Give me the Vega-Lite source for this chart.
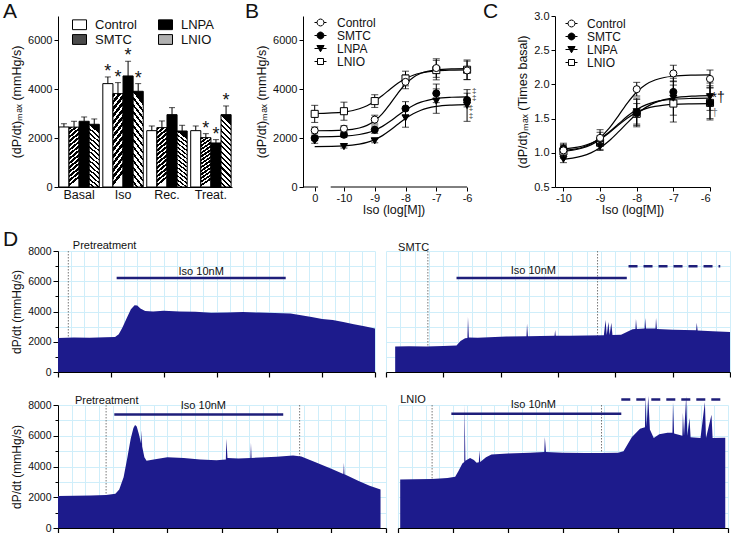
{
"$schema":"https://vega.github.io/schema/vega-lite/v6.json",
"padding":{"left":3,"top":0,"right":0,"bottom":0},
"config":{"font":"Liberation Sans","view":{"stroke":null},
 "axis":{"labelFont":"Liberation Sans","titleFont":"Liberation Sans","labelColor":"#111","titleColor":"#111","titleFontWeight":"normal","domainColor":"#000","tickColor":"#000","labelFontSize":11,"titleFontSize":12.5,"grid":false,"labelOverlap":false},
 "legend":{"labelFont":"Liberation Sans","labelColor":"#111"},
 "title":{"font":"Liberation Sans","fontWeight":"normal","color":"#111"},
 "text":{"font":"Liberation Sans"}},
"spacing":12,
"vconcat":[
{"hconcat":[
 {"width":174,"height":171,
  "title":{"text":"A","anchor":"start","frame":"group","dx":-55,"dy":5.5,"offset":0,"baseline":"top","fontSize":21},
  "data":{"values":[
   {"phase":"Basal","group":"Control","mean":2457,"err":2594,"sig":false},
   {"phase":"Basal","group":"SMTC","mean":2450,"err":2690,"sig":false},
   {"phase":"Basal","group":"LNPA","mean":2690,"err":2867,"sig":false},
   {"phase":"Basal","group":"LNIO","mean":2567,"err":2785,"sig":false},
   {"phase":"Iso","group":"Control","mean":4232,"err":4505,"sig":true},
   {"phase":"Iso","group":"SMTC","mean":3823,"err":4273,"sig":true},
   {"phase":"Iso","group":"LNPA","mean":4546,"err":5147,"sig":true},
   {"phase":"Iso","group":"LNIO","mean":3918,"err":4232,"sig":true},
   {"phase":"Rec.","group":"Control","mean":2307,"err":2498,"sig":false},
   {"phase":"Rec.","group":"SMTC","mean":2430,"err":2703,"sig":false},
   {"phase":"Rec.","group":"LNPA","mean":2962,"err":3249,"sig":false},
   {"phase":"Rec.","group":"LNIO","mean":2293,"err":2526,"sig":false},
   {"phase":"Treat.","group":"Control","mean":2307,"err":2498,"sig":false},
   {"phase":"Treat.","group":"SMTC","mean":2020,"err":2184,"sig":true},
   {"phase":"Treat.","group":"LNPA","mean":1802,"err":1939,"sig":true},
   {"phase":"Treat.","group":"LNIO","mean":2962,"err":3317,"sig":true}]},
  "layer":[
   {"mark":{"type":"bar","stroke":"#000","strokeWidth":1},
    "encoding":{
     "x":{"field":"phase","type":"nominal","sort":["Basal","Iso","Rec.","Treat."],"scale":{"paddingInner":0.08,"paddingOuter":0.02},"axis":{"title":null,"labelAngle":0,"ticks":false,"labelPadding":1,"labelFontSize":12.5,"labelOverlap":false}},
     "xOffset":{"field":"group","type":"nominal","sort":["Control","SMTC","LNPA","LNIO"]},
     "y":{"field":"mean","type":"quantitative","scale":{"domain":[0,7000],"nice":false},"axis":{"values":[0,2000,4000,6000],"tickCount":100,"format":"d","tickSize":4,"labelPadding":2,"title":"(dP/dt)ₘₐₓ (mmHg/s)","titlePadding":4,"labelOverlap":false}},
     "fill":{"condition":[
      {"test":"datum.group === 'SMTC'","value":{"gradient":"linear","x1":0,"y1":0,"x2":0.14,"y2":1,"stops":[
{"offset":0,"color":"#000"},{"offset":0.043,"color":"#000"},{"offset":0.043,"color":"#fff"},{"offset":0.071,"color":"#fff"},
{"offset":0.071,"color":"#000"},{"offset":0.114,"color":"#000"},{"offset":0.114,"color":"#fff"},{"offset":0.143,"color":"#fff"},
{"offset":0.143,"color":"#000"},{"offset":0.186,"color":"#000"},{"offset":0.186,"color":"#fff"},{"offset":0.214,"color":"#fff"},
{"offset":0.214,"color":"#000"},{"offset":0.257,"color":"#000"},{"offset":0.257,"color":"#fff"},{"offset":0.286,"color":"#fff"},
{"offset":0.286,"color":"#000"},{"offset":0.329,"color":"#000"},{"offset":0.329,"color":"#fff"},{"offset":0.357,"color":"#fff"},
{"offset":0.357,"color":"#000"},{"offset":0.4,"color":"#000"},{"offset":0.4,"color":"#fff"},{"offset":0.429,"color":"#fff"},
{"offset":0.429,"color":"#000"},{"offset":0.471,"color":"#000"},{"offset":0.471,"color":"#fff"},{"offset":0.5,"color":"#fff"},
{"offset":0.5,"color":"#000"},{"offset":0.543,"color":"#000"},{"offset":0.543,"color":"#fff"},{"offset":0.571,"color":"#fff"},
{"offset":0.571,"color":"#000"},{"offset":0.614,"color":"#000"},{"offset":0.614,"color":"#fff"},{"offset":0.643,"color":"#fff"},
{"offset":0.643,"color":"#000"},{"offset":0.686,"color":"#000"},{"offset":0.686,"color":"#fff"},{"offset":0.714,"color":"#fff"},
{"offset":0.714,"color":"#000"},{"offset":0.757,"color":"#000"},{"offset":0.757,"color":"#fff"},{"offset":0.786,"color":"#fff"},
{"offset":0.786,"color":"#000"},{"offset":0.829,"color":"#000"},{"offset":0.829,"color":"#fff"},{"offset":0.857,"color":"#fff"},
{"offset":0.857,"color":"#000"},{"offset":0.9,"color":"#000"},{"offset":0.9,"color":"#fff"},{"offset":0.929,"color":"#fff"},
{"offset":0.929,"color":"#000"},{"offset":0.971,"color":"#000"},{"offset":0.971,"color":"#fff"},{"offset":1,"color":"#fff"}]}},
      {"test":"datum.group === 'LNIO'","value":{"gradient":"linear","x1":0,"y1":1,"x2":0.14,"y2":0,"stops":[
{"offset":0,"color":"#fff"},{"offset":0.043,"color":"#fff"},{"offset":0.043,"color":"#000"},{"offset":0.071,"color":"#000"},
{"offset":0.071,"color":"#fff"},{"offset":0.114,"color":"#fff"},{"offset":0.114,"color":"#000"},{"offset":0.143,"color":"#000"},
{"offset":0.143,"color":"#fff"},{"offset":0.186,"color":"#fff"},{"offset":0.186,"color":"#000"},{"offset":0.214,"color":"#000"},
{"offset":0.214,"color":"#fff"},{"offset":0.257,"color":"#fff"},{"offset":0.257,"color":"#000"},{"offset":0.286,"color":"#000"},
{"offset":0.286,"color":"#fff"},{"offset":0.329,"color":"#fff"},{"offset":0.329,"color":"#000"},{"offset":0.357,"color":"#000"},
{"offset":0.357,"color":"#fff"},{"offset":0.4,"color":"#fff"},{"offset":0.4,"color":"#000"},{"offset":0.429,"color":"#000"},
{"offset":0.429,"color":"#fff"},{"offset":0.471,"color":"#fff"},{"offset":0.471,"color":"#000"},{"offset":0.5,"color":"#000"},
{"offset":0.5,"color":"#fff"},{"offset":0.543,"color":"#fff"},{"offset":0.543,"color":"#000"},{"offset":0.571,"color":"#000"},
{"offset":0.571,"color":"#fff"},{"offset":0.614,"color":"#fff"},{"offset":0.614,"color":"#000"},{"offset":0.643,"color":"#000"},
{"offset":0.643,"color":"#fff"},{"offset":0.686,"color":"#fff"},{"offset":0.686,"color":"#000"},{"offset":0.714,"color":"#000"},
{"offset":0.714,"color":"#fff"},{"offset":0.757,"color":"#fff"},{"offset":0.757,"color":"#000"},{"offset":0.786,"color":"#000"},
{"offset":0.786,"color":"#fff"},{"offset":0.829,"color":"#fff"},{"offset":0.829,"color":"#000"},{"offset":0.857,"color":"#000"},
{"offset":0.857,"color":"#fff"},{"offset":0.9,"color":"#fff"},{"offset":0.9,"color":"#000"},{"offset":0.929,"color":"#000"},
{"offset":0.929,"color":"#fff"},{"offset":0.971,"color":"#fff"},{"offset":0.971,"color":"#000"},{"offset":1,"color":"#000"}]}},
      {"test":"datum.group === 'LNPA'","value":"#000"}],"value":"#fff"}}},
   {"mark":{"type":"rule","color":"#000","strokeWidth":1},
    "encoding":{"x":{"field":"phase","type":"nominal","sort":["Basal","Iso","Rec.","Treat."]},"xOffset":{"field":"group","type":"nominal","sort":["Control","SMTC","LNPA","LNIO"]},"y":{"field":"mean","type":"quantitative"},"y2":{"field":"err"}}},
   {"mark":{"type":"tick","orient":"horizontal","size":6,"thickness":1,"color":"#000"},
    "encoding":{"x":{"field":"phase","type":"nominal","sort":["Basal","Iso","Rec.","Treat."]},"xOffset":{"field":"group","type":"nominal","sort":["Control","SMTC","LNPA","LNIO"]},"y":{"field":"err","type":"quantitative"}}},
   {"transform":[{"filter":"datum.sig"}],"mark":{"type":"text","text":"*","fontSize":18,"baseline":"alphabetic","color":"#111"},
    "encoding":{"x":{"field":"phase","type":"nominal","sort":["Basal","Iso","Rec.","Treat."]},"xOffset":{"field":"group","type":"nominal","sort":["Control","SMTC","LNPA","LNIO"]},"y":{"field":"err","type":"quantitative"}}},
   {"data":{"values":[{"group":"Control"},{"group":"SMTC"},{"group":"LNPA"},{"group":"LNIO"}]},
    "mark":{"type":"point","filled":true,"opacity":0,"stroke":"#000","strokeWidth":1},
    "encoding":{"fill":{"field":"group","type":"nominal","scale":{"domain":["Control","SMTC","LNPA","LNIO"],"range":["#fff","#4a4a4a","#000","#b0b0b0"]},
      "legend":{"orient":"none","legendX":14,"legendY":1,"title":null,"columns":2,"columnPadding":19,"rowPadding":0,"padding":0,"symbolType":"M-1,-0.7H1V0.7H-1Z","symbolSize":196,"symbolStrokeColor":"#000","symbolStrokeWidth":1,"symbolOpacity":1,"labelFontSize":13,"labelOffset":8}}}}
  ]},
 {"width":181,"height":171,
  "title":{"text":"B","anchor":"start","frame":"group","dx":-58,"dy":5.5,"offset":0,"baseline":"top","fontSize":21},
  "resolve":{"scale":{"shape":"independent","fill":"independent"}},
  "layer":[
   {"data":{"values":[
     {"group":"Control","x":-10.95,"y":2302},{"group":"Control","x":-10,"y":2330},{"group":"Control","x":-9.5,"y":2417},{"group":"Control","x":-9.25,"y":2522},{"group":"Control","x":-9,"y":2708},{"group":"Control","x":-8.75,"y":3002},{"group":"Control","x":-8.5,"y":3400},{"group":"Control","x":-8.25,"y":3835},{"group":"Control","x":-8,"y":4216},{"group":"Control","x":-7.75,"y":4487},{"group":"Control","x":-7.5,"y":4654},{"group":"Control","x":-7,"y":4798},{"group":"Control","x":-6.5,"y":4837},{"group":"Control","x":-6,"y":4847},
     {"group":"SMTC","x":-10.95,"y":2054},{"group":"SMTC","x":-10,"y":2082},{"group":"SMTC","x":-9.5,"y":2148},{"group":"SMTC","x":-9.25,"y":2216},{"group":"SMTC","x":-9,"y":2325},{"group":"SMTC","x":-8.75,"y":2482},{"group":"SMTC","x":-8.5,"y":2688},{"group":"SMTC","x":-8.25,"y":2923},{"group":"SMTC","x":-8,"y":3149},{"group":"SMTC","x":-7.75,"y":3337},{"group":"SMTC","x":-7.5,"y":3474},{"group":"SMTC","x":-7,"y":3621},{"group":"SMTC","x":-6.5,"y":3674},{"group":"SMTC","x":-6,"y":3692},
     {"group":"LNPA","x":-10.95,"y":1654},{"group":"LNPA","x":-10,"y":1684},{"group":"LNPA","x":-9.5,"y":1753},{"group":"LNPA","x":-9.25,"y":1825},{"group":"LNPA","x":-9,"y":1938},{"group":"LNPA","x":-8.75,"y":2103},{"group":"LNPA","x":-8.5,"y":2319},{"group":"LNPA","x":-8.25,"y":2565},{"group":"LNPA","x":-8,"y":2803},{"group":"LNPA","x":-7.75,"y":3000},{"group":"LNPA","x":-7.5,"y":3143},{"group":"LNPA","x":-7,"y":3297},{"group":"LNPA","x":-6.5,"y":3353},{"group":"LNPA","x":-6,"y":3371},
     {"group":"LNIO","x":-10.95,"y":3008},{"group":"LNIO","x":-10,"y":3069},{"group":"LNIO","x":-9.5,"y":3201},{"group":"LNIO","x":-9.25,"y":3329},{"group":"LNIO","x":-9,"y":3512},{"group":"LNIO","x":-8.75,"y":3746},{"group":"LNIO","x":-8.5,"y":4003},{"group":"LNIO","x":-8.25,"y":4244},{"group":"LNIO","x":-8,"y":4439},{"group":"LNIO","x":-7.75,"y":4577},{"group":"LNIO","x":-7.5,"y":4668},{"group":"LNIO","x":-7,"y":4756},{"group":"LNIO","x":-6.5,"y":4786},{"group":"LNIO","x":-6,"y":4796}]},
    "mark":{"type":"line","color":"#000","strokeWidth":1.2,"interpolate":"monotone"},
    "encoding":{
     "x":{"field":"x","type":"quantitative","scale":{"domain":[-11.33,-5.45],"nice":false,"zero":false},"axis":{"values":[-10.95,-10,-9,-8,-7,-6],"tickCount":100,"labelExpr":"datum.value < -10.5 ? '0' : '' + datum.value","domain":false,"tickSize":4,"labelPadding":1,"title":"Iso (log[M])","titlePadding":0,"labelOverlap":false}},
     "y":{"field":"y","type":"quantitative","scale":{"domain":[0,7000],"nice":false},"axis":{"values":[0,2000,4000,6000],"tickCount":100,"format":"d","tickSize":4,"labelPadding":2,"title":"(dP/dt)ₘₐₓ (mmHg/s)","titlePadding":4,"labelOverlap":false}},
     "detail":{"field":"group"}}},
   {"data":{"values":[{"a":-11.33,"b":-10.84},{"a":-10.43,"b":-6}]},
    "mark":{"type":"rule","color":"#000","strokeWidth":1},
    "encoding":{"x":{"field":"a","type":"quantitative"},"x2":{"field":"b"},"y":{"datum":0,"type":"quantitative"}}},
   {"data":{"name":"ptsB","values":[
     {"group":"LNIO","x":-10.95,"y":2993,"lo":2643,"hi":3343},{"group":"LNIO","x":-10,"y":3103,"lo":2733,"hi":3473},{"group":"LNIO","x":-9,"y":3517,"lo":3257,"hi":3777},{"group":"LNIO","x":-8,"y":4441,"lo":4141,"hi":4741},{"group":"LNIO","x":-7,"y":4786,"lo":4386,"hi":5186},{"group":"LNIO","x":-6,"y":4800,"lo":4400,"hi":5200},
     {"group":"LNPA","x":-10.95,"y":1890,"lo":1790,"hi":1990},{"group":"LNPA","x":-10,"y":1655,"lo":1595,"hi":1715},{"group":"LNPA","x":-9,"y":1890,"lo":1810,"hi":1970},{"group":"LNPA","x":-8,"y":2828,"lo":2448,"hi":3208},{"group":"LNPA","x":-7,"y":3517,"lo":3017,"hi":4017},{"group":"LNPA","x":-6,"y":3338,"lo":2688,"hi":3988},
     {"group":"SMTC","x":-10.95,"y":2000,"lo":1900,"hi":2100},{"group":"SMTC","x":-10,"y":2138,"lo":2038,"hi":2238},{"group":"SMTC","x":-9,"y":2345,"lo":2195,"hi":2495},{"group":"SMTC","x":-8,"y":3214,"lo":2934,"hi":3494},{"group":"SMTC","x":-7,"y":3834,"lo":3454,"hi":4214},{"group":"SMTC","x":-6,"y":3559,"lo":3279,"hi":3839},
     {"group":"Control","x":-10.95,"y":2317,"lo":2177,"hi":2457},{"group":"Control","x":-10,"y":2386,"lo":2266,"hi":2506},{"group":"Control","x":-9,"y":2759,"lo":2579,"hi":2939},{"group":"Control","x":-8,"y":4303,"lo":4023,"hi":4583},{"group":"Control","x":-7,"y":4869,"lo":4489,"hi":5249},{"group":"Control","x":-6,"y":4772,"lo":4392,"hi":5152}]},
    "mark":{"type":"rule","color":"#000","strokeWidth":1},
    "encoding":{"x":{"field":"x","type":"quantitative"},"y":{"field":"lo","type":"quantitative"},"y2":{"field":"hi"}}},
   {"data":{"name":"ptsB"},"mark":{"type":"tick","orient":"horizontal","size":7,"thickness":1,"color":"#000"},
    "encoding":{"x":{"field":"x","type":"quantitative"},"y":{"field":"lo","type":"quantitative"}}},
   {"data":{"name":"ptsB"},"mark":{"type":"tick","orient":"horizontal","size":7,"thickness":1,"color":"#000"},
    "encoding":{"x":{"field":"x","type":"quantitative"},"y":{"field":"hi","type":"quantitative"}}},
   {"data":{"name":"ptsB"},"mark":{"type":"point","filled":true,"stroke":"#000","strokeWidth":1,"opacity":1,"size":50},
    "encoding":{"x":{"field":"x","type":"quantitative"},"y":{"field":"y","type":"quantitative"},
     "shape":{"field":"group","type":"nominal","scale":{"domain":["Control","SMTC","LNPA","LNIO"],"range":["circle","circle","triangle-down","square"]},"legend":null},
     "fill":{"field":"group","type":"nominal","scale":{"domain":["Control","SMTC","LNPA","LNIO"],"range":["#fff","#000","#000","#fff"]},"legend":null}}},
   {"data":{"values":[{"group":"Control"},{"group":"SMTC"},{"group":"LNPA"},{"group":"LNIO"}]},
    "mark":{"type":"point","filled":true,"opacity":0,"stroke":"#000","strokeWidth":1},
    "encoding":{
     "shape":{"field":"group","type":"nominal","scale":{"domain":["Control","SMTC","LNPA","LNIO"],"range":["M-1,0H-0.58M0.58,0H1M0.58,0L0.502,0.29L0.29,0.502L0,0.58L-0.29,0.502L-0.502,0.29L-0.58,0L-0.502,-0.29L-0.29,-0.502L0,-0.58L0.29,-0.502L0.502,-0.29Z","M-1,0H-0.58M0.58,0H1M0.58,0L0.502,0.29L0.29,0.502L0,0.58L-0.29,0.502L-0.502,0.29L-0.58,0L-0.502,-0.29L-0.29,-0.502L0,-0.58L0.29,-0.502L0.502,-0.29Z","M-1,0H-0.3M0.3,0H1M-0.6,-0.5L0.6,-0.5L0,0.55Z","M-1,0H-0.5M0.5,0H1M-0.5,-0.5H0.5V0.5H-0.5Z"]},
      "legend":{"orient":"none","legendX":11,"legendY":0,"title":null,"padding":0,"rowPadding":0,"symbolSize":144,"symbolStrokeColor":"#000","symbolStrokeWidth":1,"symbolOpacity":1,"labelFontSize":12,"labelOffset":10,"encode":{"symbols":{"update":{"stroke":{"value":"#000"},"strokeWidth":{"value":1},"opacity":{"value":1}}}}}},
     "fill":{"field":"group","type":"nominal","scale":{"domain":["Control","SMTC","LNPA","LNIO"],"range":["#fff","#000","#000","#fff"]},
      "legend":{"orient":"none","legendX":11,"legendY":0,"title":null,"padding":0,"rowPadding":0,"symbolSize":144,"symbolStrokeColor":"#000","symbolStrokeWidth":1,"symbolOpacity":1,"labelFontSize":12,"labelOffset":10,"encode":{"symbols":{"update":{"stroke":{"value":"#000"},"strokeWidth":{"value":1},"opacity":{"value":1}}}}}}}},
   {"data":{"values":[{"x":-5.77,"y":3930,"s":["‡","‡"]},{"x":-5.87,"y":3214,"s":["‡","‡"]}]},
    "mark":{"type":"text","fontSize":8,"baseline":"middle","lineHeight":7.5,"color":"#333"},
    "encoding":{"x":{"field":"x","type":"quantitative"},"y":{"field":"y","type":"quantitative"},"text":{"field":"s"}}}
  ]},
 {"width":155,"height":171,
  "title":{"text":"C","anchor":"start","frame":"group","dx":-72,"dy":12,"offset":0,"baseline":"top","fontSize":21},
  "resolve":{"scale":{"shape":"independent","fill":"independent"}},
  "layer":[
   {"data":{"values":[
     {"group":"Control","x":-10,"y":1.035},{"group":"Control","x":-9.75,"y":1.05},{"group":"Control","x":-9.5,"y":1.078},{"group":"Control","x":-9.25,"y":1.131},{"group":"Control","x":-9,"y":1.221},{"group":"Control","x":-8.75,"y":1.36},{"group":"Control","x":-8.5,"y":1.541},{"group":"Control","x":-8.25,"y":1.731},{"group":"Control","x":-8,"y":1.889},{"group":"Control","x":-7.75,"y":1.999},{"group":"Control","x":-7.5,"y":2.064},{"group":"Control","x":-7.25,"y":2.101},{"group":"Control","x":-7,"y":2.12},{"group":"Control","x":-6.5,"y":2.135},{"group":"Control","x":-6,"y":2.139},
     {"group":"SMTC","x":-10,"y":1.057},{"group":"SMTC","x":-9.75,"y":1.071},{"group":"SMTC","x":-9.5,"y":1.096},{"group":"SMTC","x":-9.25,"y":1.139},{"group":"SMTC","x":-9,"y":1.207},{"group":"SMTC","x":-8.75,"y":1.303},{"group":"SMTC","x":-8.5,"y":1.42},{"group":"SMTC","x":-8.25,"y":1.537},{"group":"SMTC","x":-8,"y":1.633},{"group":"SMTC","x":-7.75,"y":1.701},{"group":"SMTC","x":-7.5,"y":1.744},{"group":"SMTC","x":-7.25,"y":1.769},{"group":"SMTC","x":-7,"y":1.783},{"group":"SMTC","x":-6.5,"y":1.795},{"group":"SMTC","x":-6,"y":1.799},
     {"group":"LNPA","x":-10,"y":0.904},{"group":"LNPA","x":-9.75,"y":0.921},{"group":"LNPA","x":-9.5,"y":0.951},{"group":"LNPA","x":-9.25,"y":0.999},{"group":"LNPA","x":-9,"y":1.073},{"group":"LNPA","x":-8.75,"y":1.176},{"group":"LNPA","x":-8.5,"y":1.305},{"group":"LNPA","x":-8.25,"y":1.442},{"group":"LNPA","x":-8,"y":1.567},{"group":"LNPA","x":-7.75,"y":1.664},{"group":"LNPA","x":-7.5,"y":1.733},{"group":"LNPA","x":-7.25,"y":1.777},{"group":"LNPA","x":-7,"y":1.803},{"group":"LNPA","x":-6.5,"y":1.828},{"group":"LNPA","x":-6,"y":1.836},
     {"group":"LNIO","x":-10,"y":1.02},{"group":"LNIO","x":-9.75,"y":1.037},{"group":"LNIO","x":-9.5,"y":1.067},{"group":"LNIO","x":-9.25,"y":1.116},{"group":"LNIO","x":-9,"y":1.192},{"group":"LNIO","x":-8.75,"y":1.292},{"group":"LNIO","x":-8.5,"y":1.405},{"group":"LNIO","x":-8.25,"y":1.51},{"group":"LNIO","x":-8,"y":1.591},{"group":"LNIO","x":-7.75,"y":1.645},{"group":"LNIO","x":-7.5,"y":1.678},{"group":"LNIO","x":-7.25,"y":1.697},{"group":"LNIO","x":-7,"y":1.708},{"group":"LNIO","x":-6.5,"y":1.716},{"group":"LNIO","x":-6,"y":1.719}]},
    "mark":{"type":"line","color":"#000","strokeWidth":1.2,"interpolate":"monotone"},
    "encoding":{
     "x":{"field":"x","type":"quantitative","scale":{"domain":[-10.23,-6],"nice":false,"zero":false},"axis":{"values":[-10,-9,-8,-7,-6],"tickCount":100,"labelExpr":"'' + datum.value","tickSize":4,"labelPadding":1,"title":"Iso (log[M])","titlePadding":0,"labelOverlap":false}},
     "y":{"field":"y","type":"quantitative","scale":{"domain":[0.5,3],"nice":false,"zero":false},"axis":{"values":[0.5,1,1.5,2,2.5,3],"tickCount":100,"format":".1f","tickSize":4,"labelPadding":2,"title":"(dP/dt)ₘₐₓ (Times basal)","titlePadding":4,"labelOverlap":false}},
     "detail":{"field":"group"}}},
   {"data":{"name":"ptsC","values":[
     {"group":"LNIO","x":-10,"y":1.02,"lo":0.92,"hi":1.12},{"group":"LNIO","x":-9,"y":1.15,"lo":1.05,"hi":1.25},{"group":"LNIO","x":-8,"y":1.57,"lo":1.42,"hi":1.72},{"group":"LNIO","x":-7,"y":1.72,"lo":1.45,"hi":1.99},{"group":"LNIO","x":-6,"y":1.73,"lo":1.48,"hi":1.98},
     {"group":"LNPA","x":-10,"y":0.906,"lo":0.856,"hi":0.956},{"group":"LNPA","x":-9,"y":1.094,"lo":1.034,"hi":1.154},{"group":"LNPA","x":-8,"y":1.6,"lo":1.4,"hi":1.8},{"group":"LNPA","x":-7,"y":1.8,"lo":1.55,"hi":2.05},{"group":"LNPA","x":-6,"y":1.82,"lo":1.62,"hi":2.02},
     {"group":"SMTC","x":-10,"y":1.06,"lo":0.98,"hi":1.14},{"group":"SMTC","x":-9,"y":1.2,"lo":1.1,"hi":1.3},{"group":"SMTC","x":-8,"y":1.58,"lo":1.38,"hi":1.78},{"group":"SMTC","x":-7,"y":1.89,"lo":1.69,"hi":2.09},{"group":"SMTC","x":-6,"y":1.73,"lo":1.5,"hi":1.95},
     {"group":"Control","x":-10,"y":1.035,"lo":0.965,"hi":1.105},{"group":"Control","x":-9,"y":1.218,"lo":1.098,"hi":1.338},{"group":"Control","x":-8,"y":1.93,"lo":1.83,"hi":2.03},{"group":"Control","x":-7,"y":2.16,"lo":2.04,"hi":2.28},{"group":"Control","x":-6,"y":2.08,"lo":1.95,"hi":2.21}]},
    "mark":{"type":"rule","color":"#000","strokeWidth":1},
    "encoding":{"x":{"field":"x","type":"quantitative"},"y":{"field":"lo","type":"quantitative"},"y2":{"field":"hi"}}},
   {"data":{"name":"ptsC"},"mark":{"type":"tick","orient":"horizontal","size":7,"thickness":1,"color":"#000"},
    "encoding":{"x":{"field":"x","type":"quantitative"},"y":{"field":"lo","type":"quantitative"}}},
   {"data":{"name":"ptsC"},"mark":{"type":"tick","orient":"horizontal","size":7,"thickness":1,"color":"#000"},
    "encoding":{"x":{"field":"x","type":"quantitative"},"y":{"field":"hi","type":"quantitative"}}},
   {"data":{"name":"ptsC"},"mark":{"type":"point","filled":true,"stroke":"#000","strokeWidth":1,"opacity":1,"size":50},
    "encoding":{"x":{"field":"x","type":"quantitative"},"y":{"field":"y","type":"quantitative"},
     "shape":{"field":"group","type":"nominal","scale":{"domain":["Control","SMTC","LNPA","LNIO"],"range":["circle","circle","triangle-down","square"]},"legend":null},
     "fill":{"field":"group","type":"nominal","scale":{"domain":["Control","SMTC","LNPA","LNIO"],"range":["#fff","#000","#000","#fff"]},"legend":null}}},
   {"data":{"values":[{"group":"Control"},{"group":"SMTC"},{"group":"LNPA"},{"group":"LNIO"}]},
    "mark":{"type":"point","filled":true,"opacity":0,"stroke":"#000","strokeWidth":1},
    "encoding":{
     "shape":{"field":"group","type":"nominal","scale":{"domain":["Control","SMTC","LNPA","LNIO"],"range":["M-1,0H-0.58M0.58,0H1M0.58,0L0.502,0.29L0.29,0.502L0,0.58L-0.29,0.502L-0.502,0.29L-0.58,0L-0.502,-0.29L-0.29,-0.502L0,-0.58L0.29,-0.502L0.502,-0.29Z","M-1,0H-0.58M0.58,0H1M0.58,0L0.502,0.29L0.29,0.502L0,0.58L-0.29,0.502L-0.502,0.29L-0.58,0L-0.502,-0.29L-0.29,-0.502L0,-0.58L0.29,-0.502L0.502,-0.29Z","M-1,0H-0.3M0.3,0H1M-0.6,-0.5L0.6,-0.5L0,0.55Z","M-1,0H-0.5M0.5,0H1M-0.5,-0.5H0.5V0.5H-0.5Z"]},
      "legend":{"orient":"none","legendX":10,"legendY":1,"title":null,"padding":0,"rowPadding":0,"symbolSize":144,"symbolStrokeColor":"#000","symbolStrokeWidth":1,"symbolOpacity":1,"labelFontSize":12,"labelOffset":9,"encode":{"symbols":{"update":{"stroke":{"value":"#000"},"strokeWidth":{"value":1},"opacity":{"value":1}}}}}},
     "fill":{"field":"group","type":"nominal","scale":{"domain":["Control","SMTC","LNPA","LNIO"],"range":["#fff","#000","#000","#fff"]},
      "legend":{"orient":"none","legendX":10,"legendY":1,"title":null,"padding":0,"rowPadding":0,"symbolSize":144,"symbolStrokeColor":"#000","symbolStrokeWidth":1,"symbolOpacity":1,"labelFontSize":12,"labelOffset":9,"encode":{"symbols":{"update":{"stroke":{"value":"#000"},"strokeWidth":{"value":1},"opacity":{"value":1}}}}}}}},
   {"data":{"values":[{"x":-5.78,"y":1.75,"s":"*†"}]},
    "mark":{"type":"text","fontSize":14,"baseline":"alphabetic","color":"#111"},
    "encoding":{"x":{"field":"x","type":"quantitative"},"y":{"field":"y","type":"quantitative"},"text":{"field":"s"}}},
   {"data":{"values":[{"x":-5.87,"y":1.54,"s":"†"}]},
    "mark":{"type":"text","fontSize":11,"baseline":"alphabetic","color":"#777"},
    "encoding":{"x":{"field":"x","type":"quantitative"},"y":{"field":"y","type":"quantitative"},"text":{"field":"s"}}}
  ]}
 ],"spacing":71,"bounds":"flush"},
{"hconcat":[
 {"width":317,"height":121,
  "title":{"text":"D","anchor":"start","frame":"group","dx":-55,"dy":9.5,"offset":0,"baseline":"top","fontSize":21},
  "layer":[
   {"data":{"values":[{"t":0.195}]},"mark":{"type":"rule","color":"#777","strokeDash":[1.5,1.5],"strokeWidth":1},
    "encoding":{"x":{"field":"t","type":"quantitative","scale":{"domain":[0,6],"nice":false},"axis":{"values":[0,0.25,0.5,0.75,1,1.25,1.5,1.75,2,2.25,2.5,2.75,3,3.25,3.5,3.75,4,4.25,4.5,4.75,5,5.25,5.5,5.75,6],"tickCount":100,"labels":false,"title":null,"grid":true,"gridColor":"#cfeefa","tickSize":{"condition":{"test":"datum.value % 1 === 0","value":5},"value":0},"tickWidth":1.2}}}},
   {"data":{"values":[{"t":0,"v":2250},{"t":0.3,"v":2280},{"t":0.6,"v":2260},{"t":0.9,"v":2300},{"t":1.08,"v":2320},{"t":1.15,"v":2500},{"t":1.22,"v":2950},{"t":1.3,"v":3550},{"t":1.38,"v":4150},{"t":1.45,"v":4420},{"t":1.5,"v":4400},{"t":1.56,"v":4200},{"t":1.65,"v":4030},{"t":1.8,"v":4000},{"t":2,"v":4050},{"t":2.3,"v":4000},{"t":2.6,"v":3980},{"t":2.9,"v":3920},{"t":3.2,"v":3930},{"t":3.5,"v":3970},{"t":3.8,"v":3930},{"t":4.1,"v":3900},{"t":4.4,"v":3870},{"t":4.6,"v":3760},{"t":4.8,"v":3640},{"t":5,"v":3500},{"t":5.2,"v":3440},{"t":5.4,"v":3300},{"t":5.6,"v":3160},{"t":5.8,"v":3020},{"t":6,"v":2880}]},
    "mark":{"type":"area","color":"#1d1b8c"},
    "encoding":{"x":{"field":"t","type":"quantitative"},"y":{"field":"v","type":"quantitative","scale":{"domain":[0,8000],"nice":false},"axis":{"values":[0,1000,2000,3000,4000,5000,6000,7000,8000],"tickCount":100,"format":"d","labelExpr":"datum.value % 2000 === 0 ? datum.label : ''","tickSize":{"condition":{"test":"datum.value % 2000 === 0","value":5},"value":3},"grid":true,"gridColor":"#cfeefa","title":"dP/dt (mmHg/s)","titleFontSize":12,"labelFontSize":10.5,"labelPadding":2,"titlePadding":4,"labelOverlap":false}}}},
   {"data":{"values":[{"t1":1.11,"t2":4.31,"v":6210,"kind":"Iso"}]},"mark":{"type":"rule","strokeWidth":2.5,"color":"#1e1e7a"},
    "encoding":{"x":{"field":"t1","type":"quantitative"},"x2":{"field":"t2"},"y":{"field":"v","type":"quantitative"},"strokeDash":{"field":"kind","type":"nominal","scale":{"domain":["Iso","post"],"range":[[1,0],[9,6]]},"legend":null}}},
   {"data":{"values":[{"t":0.28,"v":8130,"s":"Pretreatment"}]},"mark":{"type":"text","align":"left","baseline":"alphabetic","fontSize":11,"color":"#111"},
    "encoding":{"x":{"field":"t","type":"quantitative"},"y":{"field":"v","type":"quantitative"},"text":{"field":"s"}}},
   {"data":{"values":[{"t":2.71,"v":6432,"s":"Iso 10nM"}]},"mark":{"type":"text","align":"center","baseline":"alphabetic","fontSize":11,"color":"#111"},
    "encoding":{"x":{"field":"t","type":"quantitative"},"y":{"field":"v","type":"quantitative"},"text":{"field":"s"}}}
  ]},
 {"width":344,"height":121,
  "layer":[
   {"data":{"values":[{"t":0.73},{"t":3.69}]},"mark":{"type":"rule","color":"#777","strokeDash":[1.5,1.5],"strokeWidth":1},
    "encoding":{"x":{"field":"t","type":"quantitative","scale":{"domain":[0,6],"nice":false},"axis":{"values":[0,0.25,0.5,0.75,1,1.25,1.5,1.75,2,2.25,2.5,2.75,3,3.25,3.5,3.75,4,4.25,4.5,4.75,5,5.25,5.5,5.75,6],"tickCount":100,"labels":false,"title":null,"grid":true,"gridColor":"#cfeefa","tickSize":{"condition":{"test":"datum.value % 1 === 0","value":5},"value":0},"tickWidth":1.2}}}},
   {"data":{"values":[{"t":0.16,"v":1680},{"t":0.4,"v":1700},{"t":0.7,"v":1690},{"t":1,"v":1720},{"t":1.23,"v":1760},{"t":1.3,"v":2050},{"t":1.38,"v":2230},{"t":1.42,"v":2250},{"t":1.43,"v":3640},{"t":1.445,"v":2280},{"t":1.6,"v":2270},{"t":1.8,"v":2300},{"t":2.1,"v":2340},{"t":2.45,"v":2360},{"t":2.46,"v":3190},{"t":2.475,"v":2360},{"t":2.7,"v":2380},{"t":2.94,"v":2390},{"t":2.95,"v":2775},{"t":2.96,"v":2390},{"t":3.2,"v":2400},{"t":3.5,"v":2420},{"t":3.8,"v":2430},{"t":3.83,"v":3440},{"t":3.85,"v":2440},{"t":3.88,"v":3300},{"t":3.9,"v":2440},{"t":3.93,"v":3250},{"t":3.95,"v":2440},{"t":4.1,"v":2460},{"t":4.2,"v":2650},{"t":4.3,"v":2820},{"t":4.35,"v":2850},{"t":4.36,"v":3500},{"t":4.375,"v":2850},{"t":4.51,"v":2880},{"t":4.52,"v":3570},{"t":4.535,"v":2880},{"t":4.7,"v":2870},{"t":4.71,"v":3570},{"t":4.725,"v":2850},{"t":5,"v":2800},{"t":5.41,"v":2760},{"t":5.42,"v":3260},{"t":5.435,"v":2750},{"t":5.7,"v":2700},{"t":6,"v":2640}]},
    "mark":{"type":"area","color":"#1d1b8c"},
    "encoding":{"x":{"field":"t","type":"quantitative"},"y":{"field":"v","type":"quantitative","scale":{"domain":[0,8000],"nice":false},"axis":{"values":[0,1000,2000,3000,4000,5000,6000,7000,8000],"tickCount":100,"grid":true,"gridColor":"#cfeefa","labels":false,"ticks":false,"domain":false,"title":null}}}},
   {"data":{"values":[{"t1":1.23,"t2":4.2,"v":6210,"kind":"Iso"},{"t1":4.23,"t2":5.83,"v":7000,"kind":"post"}]},"mark":{"type":"rule","strokeWidth":2.5,"color":"#1e1e7a"},
    "encoding":{"x":{"field":"t1","type":"quantitative"},"x2":{"field":"t2"},"y":{"field":"v","type":"quantitative"},"strokeDash":{"field":"kind","type":"nominal","scale":{"domain":["Iso","post"],"range":[[1,0],[9,6]]},"legend":null}}},
   {"data":{"values":[{"t":0.21,"v":8000,"s":"SMTC"}]},"mark":{"type":"text","align":"left","baseline":"alphabetic","fontSize":11,"color":"#111"},
    "encoding":{"x":{"field":"t","type":"quantitative"},"y":{"field":"v","type":"quantitative"},"text":{"field":"s"}}},
   {"data":{"values":[{"t":2.57,"v":6498,"s":"Iso 10nM"}]},"mark":{"type":"text","align":"center","baseline":"alphabetic","fontSize":11,"color":"#111"},
    "encoding":{"x":{"field":"t","type":"quantitative"},"y":{"field":"v","type":"quantitative"},"text":{"field":"s"}}}
  ]}
 ],"spacing":11,"bounds":"flush"},
{"hconcat":[
 {"width":328,"height":123,
  "title":{"text":"D","anchor":"start","frame":"group","dx":-55,"dy":16.5,"offset":0,"baseline":"top","fontSize":21,"color":"rgba(0,0,0,0)"},
  "layer":[
   {"data":{"values":[{"t":0.88},{"t":4.42}]},"mark":{"type":"rule","color":"#777","strokeDash":[1.5,1.5],"strokeWidth":1},
    "encoding":{"x":{"field":"t","type":"quantitative","scale":{"domain":[0,6],"nice":false},"axis":{"values":[0,0.25,0.5,0.75,1,1.25,1.5,1.75,2,2.25,2.5,2.75,3,3.25,3.5,3.75,4,4.25,4.5,4.75,5,5.25,5.5,5.75,6],"tickCount":100,"labels":false,"title":null,"grid":true,"gridColor":"#cfeefa","tickSize":{"condition":{"test":"datum.value % 1 === 0","value":5},"value":0},"tickWidth":1.2}}}},
   {"data":{"values":[{"t":0,"v":2080},{"t":0.3,"v":2100},{"t":0.6,"v":2110},{"t":0.88,"v":2150},{"t":1.05,"v":2230},{"t":1.12,"v":2500},{"t":1.2,"v":3300},{"t":1.27,"v":4600},{"t":1.33,"v":5800},{"t":1.38,"v":6500},{"t":1.41,"v":6700},{"t":1.44,"v":6600},{"t":1.48,"v":6100},{"t":1.52,"v":5500},{"t":1.53,"v":6350},{"t":1.54,"v":5300},{"t":1.58,"v":4600},{"t":1.62,"v":4380},{"t":1.75,"v":4450},{"t":2,"v":4600},{"t":2.3,"v":4550},{"t":2.6,"v":4450},{"t":2.9,"v":4400},{"t":3.07,"v":4460},{"t":3.08,"v":5810},{"t":3.1,"v":4560},{"t":3.3,"v":4520},{"t":3.52,"v":4560},{"t":3.53,"v":5550},{"t":3.54,"v":4560},{"t":3.8,"v":4600},{"t":4,"v":4630},{"t":4.3,"v":4720},{"t":4.45,"v":4650},{"t":4.7,"v":4300},{"t":5,"v":3850},{"t":5.22,"v":3520},{"t":5.23,"v":4250},{"t":5.24,"v":3500},{"t":5.5,"v":3050},{"t":5.7,"v":2750},{"t":5.9,"v":2500}]},
    "mark":{"type":"area","color":"#1d1b8c"},
    "encoding":{"x":{"field":"t","type":"quantitative"},"y":{"field":"v","type":"quantitative","scale":{"domain":[0,8000],"nice":false},"axis":{"values":[0,1000,2000,3000,4000,5000,6000,7000,8000],"tickCount":100,"format":"d","labelExpr":"datum.value % 2000 === 0 ? datum.label : ''","tickSize":{"condition":{"test":"datum.value % 2000 === 0","value":5},"value":3},"grid":true,"gridColor":"#cfeefa","title":"dP/dt (mmHg/s)","titleFontSize":12,"labelFontSize":10.5,"labelPadding":2,"titlePadding":4,"labelOverlap":false}}}},
   {"data":{"values":[{"t1":1.03,"t2":4.12,"v":7390,"kind":"Iso"}]},"mark":{"type":"rule","strokeWidth":2.5,"color":"#1e1e7a"},
    "encoding":{"x":{"field":"t1","type":"quantitative"},"x2":{"field":"t2"},"y":{"field":"v","type":"quantitative"},"strokeDash":{"field":"kind","type":"nominal","scale":{"domain":["Iso","post"],"range":[[1,0],[9,6]]},"legend":null}}},
   {"data":{"values":[{"t":0.31,"v":8060,"s":"Pretreatment"}]},"mark":{"type":"text","align":"left","baseline":"alphabetic","fontSize":11,"color":"#111"},
    "encoding":{"x":{"field":"t","type":"quantitative"},"y":{"field":"v","type":"quantitative"},"text":{"field":"s"}}},
   {"data":{"values":[{"t":2.66,"v":7735,"s":"Iso 10nM"}]},"mark":{"type":"text","align":"center","baseline":"alphabetic","fontSize":11,"color":"#111"},
    "encoding":{"x":{"field":"t","type":"quantitative"},"y":{"field":"v","type":"quantitative"},"text":{"field":"s"}}}
  ]},
 {"width":330,"height":123,
  "layer":[
   {"data":{"values":[{"t":0.62},{"t":3.7}]},"mark":{"type":"rule","color":"#777","strokeDash":[1.5,1.5],"strokeWidth":1},
    "encoding":{"x":{"field":"t","type":"quantitative","scale":{"domain":[0,6],"nice":false},"axis":{"values":[0,0.25,0.5,0.75,1,1.25,1.5,1.75,2,2.25,2.5,2.75,3,3.25,3.5,3.75,4,4.25,4.5,4.75,5,5.25,5.5,5.75,6],"tickCount":100,"labels":false,"title":null,"grid":true,"gridColor":"#cfeefa","tickSize":{"condition":{"test":"datum.value % 1 === 0","value":5},"value":0},"tickWidth":1.2}}}},
   {"data":{"values":[{"t":0.04,"v":3150},{"t":0.3,"v":3170},{"t":0.62,"v":3180},{"t":0.9,"v":3250},{"t":1.04,"v":3330},{"t":1.1,"v":3700},{"t":1.17,"v":4200},{"t":1.205,"v":4300},{"t":1.21,"v":8040},{"t":1.225,"v":4380},{"t":1.31,"v":4550},{"t":1.38,"v":4420},{"t":1.43,"v":4250},{"t":1.47,"v":4280},{"t":1.48,"v":5050},{"t":1.495,"v":4300},{"t":1.6,"v":4600},{"t":1.7,"v":4780},{"t":2,"v":4850},{"t":2.4,"v":4900},{"t":2.66,"v":4950},{"t":2.67,"v":5915},{"t":2.69,"v":4950},{"t":3,"v":4900},{"t":3.4,"v":4870},{"t":3.7,"v":4880},{"t":4,"v":4900},{"t":4.1,"v":5000},{"t":4.25,"v":5900},{"t":4.4,"v":6450},{"t":4.49,"v":6550},{"t":4.5,"v":8580},{"t":4.52,"v":6600},{"t":4.55,"v":8580},{"t":4.58,"v":6400},{"t":4.65,"v":5850},{"t":4.75,"v":6100},{"t":4.9,"v":6200},{"t":4.99,"v":6200},{"t":5,"v":8200},{"t":5.02,"v":6150},{"t":5.17,"v":6000},{"t":5.18,"v":7500},{"t":5.2,"v":6000},{"t":5.24,"v":8580},{"t":5.26,"v":6000},{"t":5.3,"v":7150},{"t":5.32,"v":5900},{"t":5.5,"v":5850},{"t":5.58,"v":8200},{"t":5.6,"v":5850},{"t":5.7,"v":7370},{"t":5.72,"v":5850},{"t":5.95,"v":5870}]},
    "mark":{"type":"area","color":"#1d1b8c"},
    "encoding":{"x":{"field":"t","type":"quantitative"},"y":{"field":"v","type":"quantitative","scale":{"domain":[0,8000],"nice":false},"axis":{"values":[0,1000,2000,3000,4000,5000,6000,7000,8000],"tickCount":100,"grid":true,"gridColor":"#cfeefa","labels":false,"ticks":false,"domain":false,"title":null}}}},
   {"data":{"values":[{"t1":0.97,"t2":4.06,"v":7430,"kind":"Iso"},{"t1":4.06,"t2":5.95,"v":8365,"kind":"post"}]},"mark":{"type":"rule","strokeWidth":2.5,"color":"#1e1e7a"},
    "encoding":{"x":{"field":"t1","type":"quantitative"},"x2":{"field":"t2"},"y":{"field":"v","type":"quantitative"},"strokeDash":{"field":"kind","type":"nominal","scale":{"domain":["Iso","post"],"range":[[1,0],[9,6]]},"legend":null}}},
   {"data":{"values":[{"t":0.04,"v":8125,"s":"LNIO"}]},"mark":{"type":"text","align":"left","baseline":"alphabetic","fontSize":11,"color":"#111"},
    "encoding":{"x":{"field":"t","type":"quantitative"},"y":{"field":"v","type":"quantitative"},"text":{"field":"s"}}},
   {"data":{"values":[{"t":2.46,"v":7820,"s":"Iso 10nM"}]},"mark":{"type":"text","align":"center","baseline":"alphabetic","fontSize":11,"color":"#111"},
    "encoding":{"x":{"field":"t","type":"quantitative"},"y":{"field":"v","type":"quantitative"},"text":{"field":"s"}}}
  ]}
 ],"spacing":12,"bounds":"flush"}
]}
